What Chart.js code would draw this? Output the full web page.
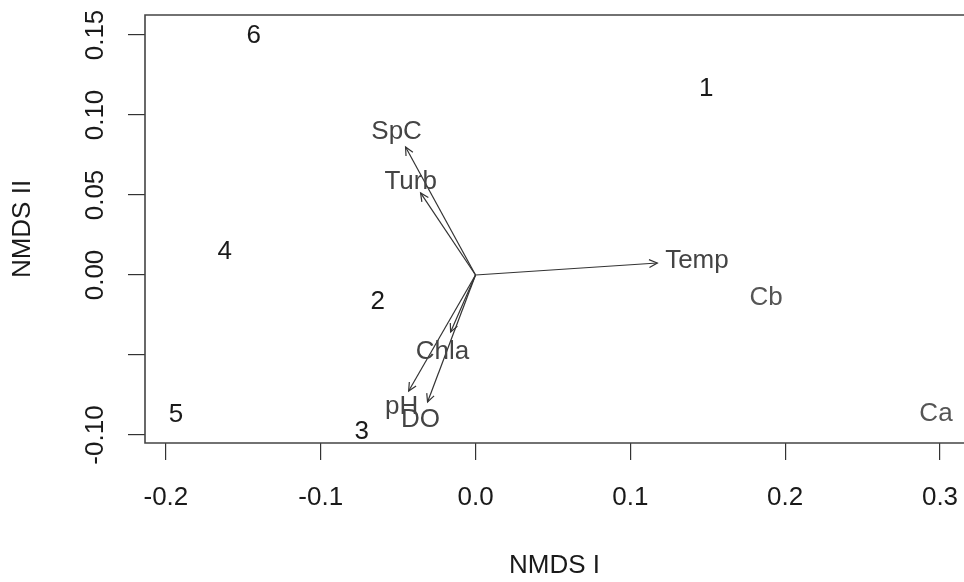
<!DOCTYPE html>
<html lang="en">
<head>
<meta charset="UTF-8">
<title>NMDS biplot</title>
<script src="https://cdn.jsdelivr.net/npm/chart.js"></script>
<style>
  body { margin: 0; background: #fff; }
  #wrap { width: 964px; height: 582px; }
</style>
</head>
<body>
<div id="wrap"><canvas id="nmds"></canvas></div>
<script>
// Site scores
const siteLabels = ['1', '2', '3', '4', '5', '6'];
const siteX = [0.149, -0.0632, -0.0735, -0.162, -0.1935, -0.1432];
const siteY = [0.118, -0.0156, -0.0969, 0.0156, -0.0863, 0.151];

// Species scores
const speciesLabels = ['Ca', 'Cb'];
const speciesX = [0.2974, 0.1877];
const speciesY = [-0.0856, -0.0131];

// Environmental vectors: arrow tips and label positions
const envLabels = ['SpC', 'Turb', 'Temp', 'Chla', 'pH', 'DO'];
const envX = [-0.0452, -0.0355, 0.1174, -0.0161, -0.0432, -0.031];
const envY = [0.080, 0.0513, 0.0075, -0.0356, -0.0725, -0.0794];
const envLabelX = [-0.051, -0.0419, 0.143, -0.0213, -0.0477, -0.0355];
const envLabelY = [0.0906, 0.0594, 0.0100, -0.0469, -0.0813, -0.0894];

// Axis ticks
const xTicks = [-0.2, -0.1, 0, 0.1, 0.2, 0.3];
const xTickLabels = ['-0.2', '-0.1', '0.0', '0.1', '0.2', '0.3'];
const yTicks = [-0.10, -0.05, 0, 0.05, 0.10, 0.15];
const yTickLabels = ['-0.10', '', '0.00', '0.05', '0.10', '0.15'];

const font = { family: "'Liberation Sans', Arial, sans-serif", size: 26 };

// arrows go from the origin to each tip
const envSets = envLabels.map((name, i) => ({
    label: name,
    kind: 'env',
    data: [{ x: 0, y: 0 }, { x: envX[i], y: envY[i] }],
    showLine: true,
    borderColor: '#333',
    borderWidth: 1.2,
    pointRadius: 0
}));

// box, arrowheads and text labels
const biplotText = {
    id: 'biplotText',
    afterDatasetsDraw(chart) {
        const { ctx, chartArea: a, scales: { x, y } } = chart;
        ctx.save();

        ctx.strokeStyle = '#444';
        ctx.lineWidth = 1.6;
        ctx.beginPath();
        ctx.moveTo(chart.width + 5, a.top);
        ctx.lineTo(a.left, a.top);
        ctx.lineTo(a.left, a.bottom);
        ctx.lineTo(chart.width + 5, a.bottom);
        ctx.stroke();

        ctx.strokeStyle = '#333';
        ctx.lineWidth = 1.2;
        chart.data.datasets.forEach((ds, i) => {
            if (ds.kind !== 'env') return;
            const pts = chart.getDatasetMeta(i).data;
            const p0 = pts[0], p1 = pts[1];
            const ang = Math.atan2(p1.y - p0.y, p1.x - p0.x);
            const len = 9, spread = Math.PI / 7;
            ctx.beginPath();
            ctx.moveTo(p1.x - len * Math.cos(ang - spread), p1.y - len * Math.sin(ang - spread));
            ctx.lineTo(p1.x, p1.y);
            ctx.lineTo(p1.x - len * Math.cos(ang + spread), p1.y - len * Math.sin(ang + spread));
            ctx.stroke();
        });

        // centre text on its cap height, like R does
        ctx.font = font.size + 'px ' + font.family;
        ctx.textAlign = 'center';
        ctx.textBaseline = 'alphabetic';
        const dy = font.size * 0.36;

        ctx.fillStyle = '#555';
        speciesLabels.forEach((t, i) => {
            ctx.fillText(t, x.getPixelForValue(speciesX[i]), y.getPixelForValue(speciesY[i]) + dy);
        });

        ctx.fillStyle = '#444';
        envLabels.forEach((t, i) => {
            ctx.fillText(t, x.getPixelForValue(envLabelX[i]), y.getPixelForValue(envLabelY[i]) + dy);
        });

        ctx.fillStyle = '#1a1a1a';
        siteLabels.forEach((t, i) => {
            ctx.fillText(t, x.getPixelForValue(siteX[i]), y.getPixelForValue(siteY[i]) + dy);
        });

        ctx.restore();
    }
};

new Chart(document.getElementById('nmds'), {
    type: 'scatter',
    data: {
        datasets: [
            {
                label: 'Sites',
                data: siteX.map((v, i) => ({ x: v, y: siteY[i] })),
                pointRadius: 0
            },
            {
                label: 'Species',
                data: speciesX.map((v, i) => ({ x: v, y: speciesY[i] })),
                pointRadius: 0
            },
            ...envSets
        ]
    },
    options: {
        responsive: true,
        maintainAspectRatio: false,
        animation: false,
        events: [],
        layout: { padding: { top: 15, right: 0, left: 0, bottom: 0 } },
        plugins: {
            legend: { display: false },
            tooltip: { enabled: false }
        },
        scales: {
            x: {
                type: 'linear',
                min: -0.2135,
                max: 0.3155,
                afterBuildTicks: s => { s.ticks = xTicks.map(v => ({ value: v })); },
                afterFit: s => {
                    s.height = 139;
                    s.paddingLeft = 0;
                    s.paddingRight = 0;
                },
                border: { display: false },
                grid: { drawOnChartArea: false, drawTicks: true, tickLength: 17, color: '#333', lineWidth: 1.2 },
                ticks: {
                    font: font,
                    color: '#1a1a1a',
                    padding: 22,
                    maxRotation: 0,
                    autoSkip: false,
                    callback: (v, i) => xTickLabels[i]
                },
                title: { display: true, text: 'NMDS I', font: font, color: '#1a1a1a', padding: { top: 0, bottom: 1 } }
            },
            y: {
                type: 'linear',
                min: -0.105,
                max: 0.1625,
                afterBuildTicks: s => { s.ticks = yTicks.map(v => ({ value: v })); },
                afterFit: s => {
                    s.width = 145;
                    s.paddingTop = 0;
                    s.paddingBottom = 0;
                },
                border: { display: false },
                grid: { drawOnChartArea: false, drawTicks: true, tickLength: 17, color: '#333', lineWidth: 1.2 },
                ticks: {
                    font: font,
                    color: '#1a1a1a',
                    padding: 3,
                    minRotation: 90,
                    maxRotation: 90,
                    crossAlign: 'center',
                    autoSkip: false,
                    callback: (v, i) => yTickLabels[i]
                },
                title: { display: true, text: 'NMDS II', font: font, color: '#1a1a1a', padding: { top: 7, bottom: 0 } }
            }
        }
    },
    plugins: [biplotText]
});
</script>
</body>
</html>
